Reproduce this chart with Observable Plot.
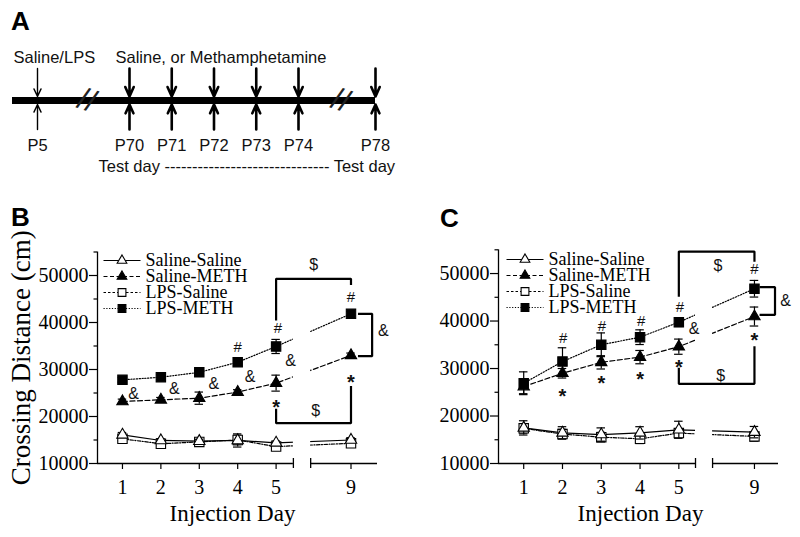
<!DOCTYPE html>
<html><head><meta charset="utf-8">
<script src="https://cdn.jsdelivr.net/npm/d3@7"></script>
<script src="https://cdn.jsdelivr.net/npm/@observablehq/plot@0.6"></script>
<style>
html,body{margin:0;padding:0;background:#fff;}
#root{position:relative;width:800px;height:537px;overflow:hidden;background:#fff;}
.plab{position:absolute;font-family:"Liberation Sans",Arial,sans-serif;font-weight:bold;font-size:26px;line-height:1;color:#000;}
.abs{position:absolute;}
</style></head>
<body><div id="root"></div>
<script>
// ---------- Panel A (timeline) ----------
const timelineLabels = ["P5", "P70", "P71", "P72", "P73", "P74", "P78"];
const timelineDays = [5, 70, 71, 72, 73, 74, 78];
const breakDays = [40, 76.2];
const topLabelLeft = "Saline/LPS";
const topLabelRight = "Saline, or Methamphetamine";
const testDayText = "Test day ------------------------------ Test day";

// ---------- Panels B and C ----------
const days = [1, 2, 3, 4, 5, 9];
const dayTickLabels = ["1", "2", "3", "4", "5", "9"];
const seriesNames = ["Saline-Saline", "Saline-METH", "LPS-Saline", "LPS-METH"];
const yMajorTicks = [10000, 20000, 30000, 40000, 50000];
const yMinorTicks = [15000, 25000, 35000, 45000, 55000];

// Panel B means (cm)
const bSalineSaline = [16100, 14900, 14750, 14900, 14400, 15000];
const bSalineMeth   = [23200, 23550, 23900, 25200, 27100, 33000];
const bLpsSaline    = [15250, 14200, 14600, 15000, 13600, 14300];
const bLpsMeth      = [27800, 28350, 29400, 31550, 34900, 41850];
// Panel B SEM
const bSalineSalineErr = [500, 400, 400, 1400, 400, 500];
const bSalineMethErr   = [500, 500, 1300, 500, 1700, 500];
const bLpsSalineErr    = [400, 400, 400, 1000, 400, 400];
const bLpsMethErr      = [500, 500, 500, 500, 1500, 500];

// Panel C means (cm)
const cSalineSaline = [17500, 16450, 16100, 16450, 17100, 16600];
const cSalineMeth   = [26200, 29000, 31300, 32400, 34600, 40950];
const cLpsSaline    = [17400, 16200, 15550, 15200, 16400, 15700];
const cLpsMeth      = [26900, 31470, 35000, 36600, 39750, 46800];
// Panel C SEM
const cSalineSalineErr = [1500, 1300, 1400, 1300, 1800, 1200];
const cSalineMethErr   = [1500, 1000, 1400, 1400, 1600, 2000];
const cLpsSalineErr    = [1000, 1000, 1000, 1000, 900, 1000];
const cLpsMethErr      = [2400, 2900, 2500, 1550, 900, 1750];

// Significance marks (x on the broken day axis, y in cm)
const bSymbols = ["#", "#", "#", "&", "&", "&", "&", "&", "&", "*", "*", "$", "$"];
const bSymX    = [4.0, 5.05, 6.95, 1.29, 2.35, 3.38, 4.32, 5.38, 7.79, 5.0, 6.95, 5.98, 6.03];
const bSymY    = [34800, 38700, 45400, 24850, 25900, 26950, 28500, 31900, 38150, 22900, 28350, 52350, 21150];
const cSymbols = ["#", "#", "#", "#", "#", "*", "*", "*", "*", "*", "&", "&", "$", "$"];
const cSymX    = [2.02, 3.02, 4.03, 5.03, 6.95, 2.0, 3.0, 4.0, 5.0, 6.95, 5.39, 7.75, 6.01, 6.08];
const cSymY    = [36460, 38840, 39960, 42900, 50840, 25220, 27830, 28740, 31330, 36950, 38360, 44320, 51540, 28550];

// Comparison brackets (polyline vertices: x on broken day axis, y in cm)
const bBrackets = [
  [[5, 40640], [5, 49300], [6.95, 49300], [6.95, 48230]],
  [[5, 21430], [5, 18570], [6.95, 18570], [6.95, 26230]],
  [[7.16, 41850], [7.5, 41850], [7.5, 32830], [7.16, 32830]]
];
const cBrackets = [
  [[5, 45370], [5, 54630], [6.95, 54630], [6.95, 52740]],
  [[5, 29940], [5, 26780], [6.95, 26780], [6.95, 34480]],
  [[7.11, 47120], [7.48, 47120], [7.48, 41300], [7.11, 41300]]
];

// ---------- styles ----------
const SLOT9 = 6.95;
const slot = d => (d <= 5 ? d : SLOT9);
const SERIF = "Liberation Serif, Times New Roman, serif";
const SANS = "Liberation Sans, Arial, sans-serif";
const seriesStyle = {
  "Saline-Saline": {dash: null, legendDash: null, symbol: "triangle", fill: "white", r: 4.2, lr: 3.6},
  "Saline-METH":   {dash: "5,2.5", legendDash: "4,2.5", symbol: "triangle", fill: "black", r: 4.2, lr: 3.6},
  "LPS-Saline":    {dash: "3.5,1.5,1,1.5", legendDash: "2.5,2", symbol: "square", fill: "white", r: 5.3, lr: 4.4},
  "LPS-METH":      {dash: "1.2,1.6", legendDash: "1.2,1.6", symbol: "square", fill: "black", r: 5.3, lr: 4.4}
};
const drawOrder = ["LPS-Saline", "Saline-Saline", "Saline-METH", "LPS-METH"];

const root = document.getElementById("root");
function place(node, left, top) {
  node.classList.add("abs");
  node.style.left = left + "px";
  node.style.top = top + "px";
  root.appendChild(node);
}
function label(text, left, top) {
  const d = document.createElement("div");
  d.className = "plab";
  d.textContent = text;
  d.style.left = left + "px";
  d.style.top = top + "px";
  root.appendChild(d);
}

// ---------- Panel A ----------
// compressed (broken) time axis and row layout of the schematic
const timeCompress = d3.scaleLinear().domain([0, 5, 70, 74, 78]).range([12, 37, 129, 298, 375]);
const rowLayout = d3.scaleLinear().domain([0, 1, 2, 3, 4, 5]).range([57, 68, 100, 129, 145, 166]);
const panelA = Plot.plot({
  width: 420, height: 180, margin: 0,
  x: {type: "linear", transform: timeCompress, domain: [0, 420], range: [0, 420], axis: null},
  y: {type: "linear", transform: rowLayout, domain: [0, 180], range: [0, 180], axis: null},
  style: {fontFamily: SANS, fontSize: "16.5px", background: "transparent", overflow: "visible", color: "#111"},
  marks: [
    Plot.ruleY([2], {x1: 0, x2: 78, stroke: "#000", strokeWidth: 7}),
    Plot.text(breakDays, {x: d => d, y: 2, text: () => "//", fontSize: 31, rotate: 20, fill: "#222"}),
    Plot.arrow(timelineDays.slice(0, 1), {x1: d => d, x2: d => d, y1: 1, y2: 2, insetEnd: 4, strokeWidth: 1.4, headLength: 9, headAngle: 50, stroke: "#000"}),
    Plot.arrow(timelineDays.slice(0, 1), {x1: d => d, x2: d => d, y1: 3, y2: 2, insetEnd: 4, strokeWidth: 1.4, headLength: 9, headAngle: 50, stroke: "#000"}),
    Plot.arrow(timelineDays.slice(1), {x1: d => d, x2: d => d, y1: 1, y2: 2, insetEnd: 4, strokeWidth: 2.6, headLength: 6, headAngle: 48, stroke: "#000"}),
    Plot.arrow(timelineDays.slice(1), {x1: d => d, x2: d => d, y1: 3, y2: 2, insetEnd: 4, strokeWidth: 2.6, headLength: 6, headAngle: 48, stroke: "#000"}),
    Plot.text(timelineDays, {x: d => d, y: 4, text: (d, i) => timelineLabels[i]}),
    Plot.text([topLabelLeft], {x: 0, y: 0, textAnchor: "start", dx: 1}),
    Plot.text([topLabelRight], {x: 70, y: 0, textAnchor: "start", dx: -14}),
    Plot.text([testDayText], {x: 70, y: 5, textAnchor: "start", dx: -31})
  ]
});
place(panelA, 0, 0);
label("A", 11, 8);

// ---------- Panels B / C ----------
function panel(cfg) {
  const means = cfg.means, errs = cfg.errs;
  const rows = seriesNames.flatMap((s, i) => days.map((d, j) => ({series: s, x: slot(d), mean: means[i][j], err: errs[i][j]})));
  const bySeries = s => rows.filter(r => r.series === s);
  const CAP = 0.11;
  const ann = cfg.sym.map((t, i) => ({t, x: cfg.symX[i], y: cfg.symY[i]}));
  const brk = cfg.brackets.flatMap((b, k) => b.map(p => ({k, x: p[0], y: p[1]})));
  const marks = [];
  seriesNames.forEach(s => marks.push(Plot.line(bySeries(s), {x: "x", y: "mean", stroke: "#000", strokeWidth: 1.2, strokeDasharray: seriesStyle[s].dash})));
  marks.push(Plot.rect([cfg.gap], {x1: d => d[0], x2: d => d[1], y1: 10500, y2: 56000, fill: "white"}));
  drawOrder.forEach(s => {
    const st = seriesStyle[s];
    const data = bySeries(s);
    marks.push(Plot.ruleX(data, {x: "x", y1: d => d.mean - d.err, y2: d => d.mean + d.err, stroke: "#000", strokeWidth: 1.2}));
    marks.push(Plot.ruleY(data, {x1: d => d.x - CAP, x2: d => d.x + CAP, y: d => d.mean + d.err, stroke: "#000", strokeWidth: 1.2}));
    marks.push(Plot.ruleY(data, {x1: d => d.x - CAP, x2: d => d.x + CAP, y: d => d.mean - d.err, stroke: "#000", strokeWidth: 1.2}));
    marks.push(Plot.dot(data, {x: "x", y: "mean", symbol: st.symbol, r: st.r, fill: st.fill, stroke: "#000", strokeWidth: 1.1}));
  });
  // significance symbols
  marks.push(Plot.text(ann.filter(a => a.t === "#"), {x: "x", y: "y", text: "t", fontFamily: SANS, fontSize: 15, fill: "#111"}));
  marks.push(Plot.text(ann.filter(a => a.t === "&"), {x: "x", y: "y", text: "t", fontFamily: SANS, fontSize: 16, fill: "#111"}));
  marks.push(Plot.text(ann.filter(a => a.t === "$"), {x: "x", y: "y", text: "t", fontFamily: SANS, fontSize: 16, fill: "#111"}));
  marks.push(Plot.text(ann.filter(a => a.t === "*"), {x: "x", y: "y", text: "t", fontFamily: SANS, fontSize: 20, fontWeight: "bold", dy: 5, fill: "#111"}));
  // brackets
  marks.push(Plot.line(brk, {x: "x", y: "y", z: "k", stroke: "#000", strokeWidth: 2.2, strokeLinejoin: "miter", strokeLinecap: "square"}));
  // axes
  marks.push(Plot.ruleX([cfg.xDomain[0]], {y1: 10000, y2: 55000, stroke: "#000", strokeWidth: 1.3}));
  marks.push(Plot.axisY({ticks: yMajorTicks, tickSize: 8, tickPadding: 1, tickFormat: d => String(d), fontSize: 20, label: null, strokeWidth: 1.2}));
  marks.push(Plot.axisY({ticks: yMinorTicks, tickSize: 3.5, tickFormat: () => "", label: null, strokeWidth: 1.2}));
  marks.push(Plot.ruleY([10000], {x1: cfg.xDomain[0], x2: cfg.gap[0], stroke: "#000", strokeWidth: 1.3}));
  marks.push(Plot.ruleY([10000], {x1: cfg.gap[1], x2: cfg.xDomain[1], stroke: "#000", strokeWidth: 1.3}));
  marks.push(Plot.ruleX(cfg.gap, {x: d => d, y1: 10000, y2: 10000, insetTop: -5, insetBottom: -5, stroke: "#000", strokeWidth: 1.3}));
  marks.push(Plot.axisX({ticks: days.map(slot), tickFormat: (d, i) => dayTickLabels[i], tickSize: 6, tickPadding: 10, fontSize: 20, label: null, strokeWidth: 1.2}));
  marks.push(Plot.text(["Injection Day"], {frameAnchor: "bottom", lineAnchor: "middle", textAnchor: "middle", dy: 50, dx: cfg.labelDx, fontSize: 23}));
  if (cfg.yLabel) marks.push(Plot.text([cfg.yLabel], {frameAnchor: "left", textAnchor: "middle", lineAnchor: "middle", dx: -76, rotate: -90, fontSize: 27}));
  return Plot.plot({
    width: 400, height: 347,
    marginLeft: cfg.marginLeft, marginRight: cfg.marginRight, marginTop: cfg.marginTop, marginBottom: 74,
    x: {domain: cfg.xDomain},
    y: {domain: [10000, 55000]},
    style: {fontFamily: SERIF, fontSize: "20px", background: "transparent", overflow: "visible", color: "#000"},
    marks
  });
}

function legend() {
  const marks = [];
  seriesNames.forEach(s => {
    const st = seriesStyle[s];
    marks.push(Plot.link([s], {x1: 0, x2: 1, y1: d => d, y2: d => d, stroke: "#000", strokeWidth: 1.2, strokeDasharray: st.legendDash}));
    marks.push(Plot.dot([s], {x: 0.5, y: d => d, symbol: st.symbol, r: st.lr, fill: st.fill, stroke: "#000", strokeWidth: 1.1}));
  });
  marks.push(Plot.text(seriesNames, {x: 1, y: d => d, text: d => d, textAnchor: "start", dx: 5, fontSize: 18}));
  return Plot.plot({
    width: 170, height: 68, marginTop: 9.3, marginBottom: 9.7, marginLeft: 3, marginRight: 130,
    x: {domain: [0, 1], axis: null},
    y: {type: "point", domain: seriesNames, padding: 0, axis: null},
    style: {fontFamily: SERIF, fontSize: "18px", background: "transparent", overflow: "visible", color: "#000"},
    marks
  });
}

const panelB = panel({
  means: [bSalineSaline, bSalineMeth, bLpsSaline, bLpsMeth],
  errs: [bSalineSalineErr, bSalineMethErr, bLpsSalineErr, bLpsMethErr],
  sym: bSymbols, symX: bSymX, symY: bSymY, brackets: bBrackets,
  gap: [5.45, 5.9], xDomain: [0.35, 7.64],
  marginLeft: 97, marginRight: 23, marginTop: 61.5, labelDx: -5,
  yLabel: "Crossing Distance (cm)"
});
place(panelB, 0, 190);
place(legend(), 100, 250);
label("B", 11, 204);

const panelC = panel({
  means: [cSalineSaline, cSalineMeth, cLpsSaline, cLpsMeth],
  errs: [cSalineSalineErr, cSalineMethErr, cLpsSalineErr, cLpsMethErr],
  sym: cSymbols, symX: cSymX, symY: cSymY, brackets: cBrackets,
  gap: [5.43, 5.87], xDomain: [0.35, 7.57],
  marginLeft: 98, marginRight: 22, marginTop: 59.3, labelDx: 2,
  yLabel: null
});
place(panelC, 400, 190);
place(legend(), 503, 249);
label("C", 440, 205);
</script>
</body></html>
